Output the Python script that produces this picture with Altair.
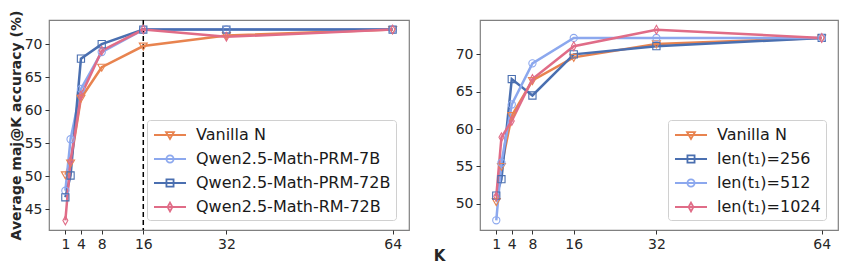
import altair as alt
import pandas as pd

K = [1, 2, 4, 8, 16, 32, 64]

# Left panel
left_names = ["Vanilla N", "Qwen2.5-Math-PRM-7B", "Qwen2.5-Math-PRM-72B", "Qwen2.5-Math-RM-72B"]
left_vanilla = [50.2, 52.0, 61.8, 66.5, 69.7, 71.3, 72.2]
left_prm7 = [47.8, 55.6, 63.2, 68.8, 72.2, 72.2, 72.2]
left_prm72 = [46.8, 50.1, 67.8, 70.0, 72.2, 72.2, 72.2]
left_rm72 = [43.3, 52.3, 62.2, 69.0, 72.2, 71.1, 72.2]

# Right panel
right_names = ["Vanilla N", "len(t₁)=256", "len(t₁)=512", "len(t₁)=1024"]
right_vanilla = [50.3, 55.0, 61.8, 66.5, 69.6, 71.4, 72.2]
right_256 = [51.1, 53.3, 66.7, 64.5, 70.0, 71.1, 72.2]
right_512 = [47.8, 55.5, 63.3, 68.8, 72.2, 72.2, 72.2]
right_1024 = [51.0, 58.9, 61.1, 66.7, 71.1, 73.3, 72.2]

x_ticks = [1, 4, 8, 16, 32, 64]
left_y_ticks = [45, 50, 55, 60, 65, 70]
right_y_ticks = [50, 55, 60, 65, 70]

ORANGE = "#E8834F"
LBLUE = "#8CA8EE"
DBLUE = "#4A6FB0"
PINK = "#E06C87"

TRI = "M-1,-0.75L1,-0.75L0,1Z"
CIR = "M-0.9,0A0.9,0.9 0 1,0 0.9,0A0.9,0.9 0 1,0 -0.9,0Z"
SQR = "M-0.9,-0.9H0.9V0.9H-0.9Z"
DIA = "M0,-1.1L0.62,0L0,1.1L-0.62,0Z"

# legend symbols: size 324 -> unit = 9px; line spans 32px
s = 0.44
L = 1.78
LTRI = f"M{-L},0L{L},0M{-s},{-0.75*s}L{s},{-0.75*s}L0,{s}Z"
LCIR = f"M{-L},0L{L},0M{-0.9*s},0A{0.9*s},{0.9*s} 0 1,0 {0.9*s},0A{0.9*s},{0.9*s} 0 1,0 {-0.9*s},0Z"
LSQR = f"M{-L},0L{L},0M{-0.9*s},{-0.9*s}H{0.9*s}V{0.9*s}H{-0.9*s}Z"
LDIA = f"M{-L},0L{L},0M0,{-1.1*s}L{0.62*s},0L0,{1.1*s}L{-0.62*s},0Z"

FONT = "DejaVu Sans"
XDOM = [-2.15, 67.15]


def panel(names, series, colors, shapes, lshapes, y_ticks, ydom, width, show_title, vline, legend_xy):
    rows = []
    for n, vals in zip(names, series):
        for k, v in zip(K, vals):
            rows.append({"K": k, "acc": v, "series": n})
    df = pd.DataFrame(rows)
    xenc = alt.X("K:Q", scale=alt.Scale(domain=XDOM, nice=False, zero=False),
                 axis=alt.Axis(values=x_ticks, title=None, grid=False, domain=False,
                               tickColor="#333", labelColor="#262626", labelFontSize=14,
                               labelFont=FONT, tickSize=4, labelPadding=3))
    yenc = alt.Y("acc:Q", scale=alt.Scale(domain=ydom, nice=False, zero=False),
                 axis=alt.Axis(values=y_ticks, grid=False, domain=False,
                               title="Average maj@K accuracy (%)" if show_title else None,
                               titleFont=FONT, titleFontSize=14, titleFontWeight="bold",
                               titleColor="#262626", titlePadding=1,
                               tickColor="#333", labelColor="#262626", labelFontSize=14,
                               labelFont=FONT, tickSize=4, labelPadding=3))
    base = alt.Chart(df)
    layers = []
    if vline:
        vdf = pd.DataFrame({"K": [16]})
        layers.append(alt.Chart(vdf).mark_rule(color="black", strokeWidth=1.5, strokeDash=[5, 3]).encode(
            x=alt.X("K:Q", scale=alt.Scale(domain=XDOM, nice=False, zero=False))))
    for n, c in zip(names, colors):
        layers.append(base.transform_filter(alt.datum.series == n).mark_line(
            strokeWidth=2.5, color=c).encode(x=xenc, y=yenc, order="K:Q"))
    for n, c, sh in zip(names, colors, shapes):
        layers.append(base.transform_filter(alt.datum.series == n).mark_point(
            shape=sh, size=64, filled=False, color=c, strokeWidth=1.1, opacity=1).encode(x=xenc, y=yenc))
    leg = base.mark_point(filled=False, strokeWidth=1.8, opacity=0).encode(
        x=xenc, y=yenc,
        stroke=alt.Stroke("series:N", scale=alt.Scale(domain=names, range=colors),
                          legend=alt.Legend(title=None, orient="none", legendX=legend_xy[0],
                                            legendY=legend_xy[1], symbolSize=324,
                                            symbolStrokeWidth=1.8, symbolOpacity=1,
                                            symbolOffset=8,
                                            labelFont=FONT, labelFontSize=16, labelColor="#1a1a1a",
                                            labelLimit=0,
                                            strokeColor="#d0d0d0", fillColor="white", cornerRadius=3,
                                            padding=5, rowPadding=6, labelOffset=16)),
        shape=alt.Shape("series:N", scale=alt.Scale(domain=names, range=lshapes)))
    layers.append(leg)
    return alt.layer(*layers).properties(width=width, height=210)


left = panel(left_names, [left_vanilla, left_prm7, left_prm72, left_rm72],
             [ORANGE, LBLUE, DBLUE, PINK], [TRI, CIR, SQR, DIA], [LTRI, LCIR, LSQR, LDIA],
             left_y_ticks, [41.85, 73.65], 360, True, True, (98, 100))
right = panel(right_names, [right_vanilla, right_256, right_512, right_1024],
              [ORANGE, DBLUE, LBLUE, PINK], [TRI, SQR, CIR, DIA], [LTRI, LSQR, LCIR, LDIA],
              right_y_ticks, [46.5, 74.6], 358, False, False, (188, 100))

chart = alt.hconcat(left, right, spacing=44).resolve_scale(
    stroke="independent", shape="independent"
).resolve_legend(stroke="independent", shape="independent").properties(
    title=alt.TitleParams("K", orient="bottom", anchor="middle", font=FONT, fontSize=15,
                          fontWeight="bold", color="#262626", offset=-3, dx=16),
    padding={"left": 0, "top": 1, "right": 0, "bottom": 0},
).configure_view(stroke="#808080", strokeWidth=1.2)

chart.save("out.html", embed_options={"renderer": "svg", "actions": False})
